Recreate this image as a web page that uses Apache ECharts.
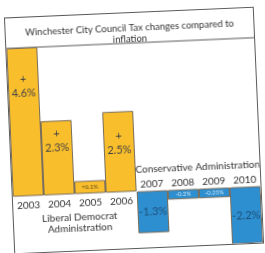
<!DOCTYPE html>
<html>
<head>
<meta charset="utf-8">
<script src="https://cdn.jsdelivr.net/npm/echarts@6/dist/echarts.min.js"></script>
<style>
  html, body { margin: 0; width: 265px; height: 253px; background: #fff; overflow: hidden; }
  #frame {
    position: absolute; left: 9px; top: 12px;
    width: 248px; height: 235px;
    border: 1px solid #5a5a5a; background: #fff;
    transform: rotate(-2.5deg);
  }
  #chart { width: 248px; height: 235px; }
</style>
</head>
<body>
<div id="frame"><div id="chart"></div></div>
<script>
// ── data ─────────────────────────────────────────────
const years       = ['2003', '2004', '2005', '2006', '2007', '2008', '2009', '2010']
const barValues   = [4.6, 2.3, 0.4, 2.5, -1.3, -0.3, -0.3, -2.2]   // drawn heights
const valueLabels = ['+\n4.6%', '+\n2.3%', '+0.1%', '+\n2.5%', '-1.3%', '-0.2%', '-0.25%', '-2.2%']

// ── style ────────────────────────────────────────────
const YELLOW = '#f9be2b'
const BLUE   = '#2e8fd0'
const EDGE   = '#7a6e5c'
const FONT   = 'Lato'
const labelDistance = [24, 6, 0, 18, 0, 0, 0, 0]

const chart = echarts.init(document.getElementById('chart'))

const seriesData = barValues.map((v, i) => {
  const small = Math.abs(v) < 0.5
  const label = small
    ? { position: 'inside', fontSize: 6, color: v > 0 ? '#5a4a20' : '#cfe3f3' }
    : v > 0
      ? { position: 'insideTop', distance: labelDistance[i], fontSize: 11, lineHeight: 14, color: '#444' }
      : { position: 'inside', fontSize: 11, color: '#1d4f7a' }
  return {
    value: v,
    itemStyle: { color: v > 0 ? YELLOW : BLUE, borderColor: EDGE, borderWidth: 1 },
    label: Object.assign({ show: true, formatter: valueLabels[i], fontFamily: FONT }, label),
  }
})

// year labels sit on the zero line: below it for positive bars, above it for negative
const yearData = years.map((y, i) => ({
  value: 0,
  label: {
    show: true, formatter: y, fontFamily: FONT, fontSize: 10, color: '#333',
    position: barValues[i] > 0 ? 'bottom' : 'top',
    distance: barValues[i] > 0 ? 4 : 2,
  },
}))

chart.setOption({
  animation: false,
  title: {
    text: 'Winchester City Council Tax changes compared to\ninflation',
    left: 'center', top: 4,
    textStyle: { fontFamily: FONT, fontSize: 9.5, fontWeight: 'normal', color: '#333', lineHeight: 11 },
  },
  graphic: [
    { type: 'line', shape: { x1: 0, y1: 30, x2: 248, y2: 30 }, style: { stroke: '#5a5a5a', lineWidth: 1 } },
    { type: 'text', x: 66, y: 196,
      style: { text: 'Liberal Democrat\nAdministration', fontFamily: FONT, fontSize: 10,
               lineHeight: 11, fill: '#333', align: 'center', verticalAlign: 'top' } },
    { type: 'text', x: 186, y: 157,
      style: { text: 'Conservative Administration', fontFamily: FONT, fontSize: 10,
               fill: '#333', align: 'center', verticalAlign: 'middle' } },
  ],
  grid: { left: 0, right: 0, top: 30, bottom: 0 },
  xAxis: {
    type: 'category', data: years, show: false,
  },
  yAxis: { type: 'value', min: -1.75, max: 4.6, show: false, splitLine: { show: false } },
  series: [
    { type: 'bar', data: seriesData, barCategoryGap: 0, clip: true },
    { type: 'bar', data: yearData, barGap: '-100%', silent: true,
      itemStyle: { color: 'transparent' } },
  ],
})
</script>
</body>
</html>
